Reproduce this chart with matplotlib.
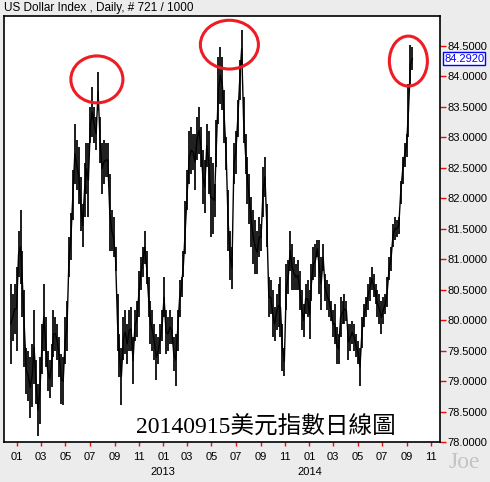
import matplotlib
matplotlib.use('Agg')
import matplotlib.pyplot as plt
import matplotlib.dates as mdates
import matplotlib.transforms as mtransforms
from matplotlib.patches import Ellipse
import pandas as pd

# ---- data (high / low, ~every 2 px) ----
highs = [
    80.60, 80.43, 80.60, 80.87, 81.47, 81.80, 81.14, 80.49, 79.55, 79.50, 79.39, 79.61, 80.16, 79.34, 78.95, 79.39,
    79.94, 80.60, 80.05, 79.50, 79.34, 79.61, 80.16, 80.05, 79.94, 79.72, 79.45, 79.39, 80.05, 80.32, 81.36, 81.75,
    82.46, 83.22, 82.95, 82.84, 82.35, 81.91, 82.57, 82.90, 82.90, 83.50, 83.83, 83.50, 83.33, 84.07, 83.33, 82.90,
    82.95, 82.90, 82.90,
    82.40, 81.80, 81.69, 81.20, 80.43, 79.77, 79.55, 80.05, 80.16, 79.94, 80.16, 80.21, 79.72, 80.16, 80.32, 80.81,
    81.03, 81.20, 81.47, 81.14, 80.70, 80.32, 80.16, 79.94, 79.77, 79.72, 79.94, 80.16, 80.70, 80.16, 80.05, 80.16,
    80.05, 79.72, 79.77, 80.16, 80.65, 80.70, 81.14, 81.96, 82.46, 83.11, 83.17, 83.06, 83.06, 83.33, 83.50, 83.17,
    82.79, 82.62, 83.22, 83.11, 82.68,
    82.57, 82.24, 83.28, 84.32, 84.48, 84.32, 83.77, 83.00, 82.13, 81.47, 81.20, 82.90, 83.11, 83.61, 84.26, 84.76,
    83.66, 83.06, 82.68, 82.40, 82.02, 81.80, 81.64, 81.47, 81.69, 81.58, 82.51, 82.68, 81.91, 80.70, 80.65, 80.49,
    80.21, 80.43, 80.60, 80.70, 79.94, 79.55, 80.92, 80.98, 81.47, 81.25, 81.03, 80.92, 80.98, 80.81, 80.49, 80.27,
    80.60, 80.65, 80.49, 80.92, 81.20, 81.25, 81.31,
    81.31, 81.03, 81.25, 80.76, 80.65, 80.60, 80.32, 80.16, 80.27, 79.88, 79.77, 80.38, 80.32, 80.43, 80.32, 79.94,
    79.94, 79.99, 79.94, 79.77, 79.66, 79.55, 80.05, 80.27, 80.38, 80.60, 80.70, 80.87, 80.76, 80.60, 80.49, 80.43,
    80.32, 80.38, 80.43, 80.70, 81.03, 81.20, 81.58, 81.69, 81.64, 81.69, 82.29, 82.68, 82.90, 83.06, 83.88, 84.51,
    84.48,
]
lows = [
    79.28, 79.66, 79.77, 79.50, 80.70, 80.60, 80.05, 79.23, 78.79, 78.68, 78.40, 78.57, 78.95, 78.62, 78.10, 78.30,
    79.12, 79.50, 79.23, 78.84, 78.73, 78.90, 79.39, 79.50, 79.34, 79.06, 78.62, 78.60, 79.28, 79.50, 80.70, 80.98,
    81.64, 82.24, 82.13, 81.91, 81.47, 81.20, 81.69, 82.07, 81.69, 82.90, 83.00, 82.90, 82.79, 83.44, 82.57, 82.07,
    82.24, 82.35, 82.35,
    81.14, 81.14, 81.03, 80.81, 79.50, 79.06, 78.60, 79.34, 79.45, 79.28, 79.50, 79.50, 78.95, 79.66, 79.72, 80.05,
    80.49, 80.70, 80.92, 80.60, 80.05, 79.61, 79.50, 79.34, 79.01, 79.28, 79.45, 79.66, 80.05, 79.45, 79.50, 79.61,
    79.61, 79.17, 78.92, 79.50, 80.05, 80.38, 80.70, 81.09, 81.80, 82.24, 82.40, 82.46, 82.13, 82.62, 82.73, 82.51,
    81.91, 81.75, 82.51, 82.07, 81.36,
    81.42, 81.69, 82.51, 83.22, 83.55, 83.44, 82.90, 82.46, 81.14, 80.65, 80.51, 82.24, 82.40, 83.00, 83.61, 84.15,
    82.90, 82.40, 81.91, 81.58, 81.20, 80.92, 80.76, 80.76, 81.03, 81.14, 81.69, 82.02, 81.20, 80.05, 80.10, 79.72,
    79.66, 79.83, 79.88, 79.72, 79.17, 79.09, 80.16, 80.43, 80.81, 80.49, 80.49, 80.49, 80.49, 80.16, 79.83, 79.72,
    80.10, 80.05, 79.69, 80.32, 80.65, 80.70, 81.03,
    80.43, 80.16, 80.81, 80.32, 80.16, 80.05, 79.99, 79.72, 79.61, 79.28, 79.28, 79.72, 79.94, 79.94, 79.99, 79.34,
    79.50, 79.61, 79.50, 79.39, 79.28, 78.92, 79.55, 79.88, 80.05, 80.16, 80.32, 80.49, 80.38, 80.27, 80.05, 79.94,
    79.77, 79.94, 80.10, 80.21, 80.65, 80.81, 81.20, 81.31, 81.36, 81.42, 81.91, 82.24, 82.51, 82.68, 83.00, 83.88,
    84.10,
]
first_date = '2011-12-17'
last_date = '2014-09-15'
last_price = 84.2920
y_ticks = [78.0, 78.5, 79.0, 79.5, 80.0, 80.5, 81.0, 81.5, 82.0, 82.5, 83.0, 83.5, 84.0, 84.5]
year_labels = ['2013', '2014']
header = 'US Dollar Index , Daily, # 721 / 1000'
caption = '20140915美元指數日線圖'
# circled highs: (centre date, centre price, width in days, height in price)
circles = [('2012-07-19', 83.95, 130, 0.77), ('2013-06-15', 84.52, 145, 0.80), ('2014-09-05', 84.25, 95, 0.82)]

n = min(len(highs), len(lows))
highs, lows = highs[:n], lows[:n]
dates = pd.date_range(first_date, last_date, periods=n)
mids = [(h + l) / 2 for h, l in zip(highs, lows)]

BG = '#ECECEC'
plt.rcParams['font.family'] = ['Liberation Sans', 'DejaVu Sans']

fig = plt.figure(figsize=(4.9, 4.82), dpi=100, facecolor=BG)
ax = fig.add_axes([4 / 490, 1 - 442 / 482, 436 / 490, 426 / 482])
ax.set_facecolor('white')

ax.vlines(dates, lows, highs, color='black', linewidth=1.25)
ax.plot(dates, mids, color='black', linewidth=1.0)

ax.set_xlim(pd.Timestamp('2011-11-30'), pd.Timestamp('2014-11-23'))
ax.set_ylim(78.0, 84.99)

ax.yaxis.tick_right()
ax.set_yticks(y_ticks)
ax.set_yticklabels([f'{v:.4f}' for v in y_ticks])
ax.xaxis.set_major_locator(mdates.MonthLocator(bymonth=[1, 3, 5, 7, 9, 11]))
ax.xaxis.set_major_formatter(mdates.DateFormatter('%m'))
ax.tick_params(axis='y', colors='red', labelcolor='black', length=4, width=1, direction='out',
               pad=1.5, labelsize=8)
ax.tick_params(axis='x', colors='red', labelcolor='black', length=3, width=1, direction='out',
               pad=4, labelsize=8)
for s in ax.spines.values():
    s.set_color('black')
    s.set_linewidth(1.2)

# year labels under the January ticks
trans = mtransforms.blended_transform_factory(ax.transData, fig.transFigure)
for yl in year_labels:
    ax.text(pd.Timestamp(f'{yl}-01-01'), 1 - 472 / 482, yl, transform=trans,
            ha='center', va='center', fontsize=8, color='black')

# header
fig.text(4 / 490, 1 - 8 / 482, header, ha='left', va='center', fontsize=8.5, color='black')

# red circles
for d, p, w, h in circles:
    ax.add_patch(Ellipse((mdates.date2num(pd.Timestamp(d)), p), w, h, fill=False,
                         edgecolor='#EE1C25', linewidth=2.2, zorder=5))

# current price box
ytr = mtransforms.blended_transform_factory(ax.transAxes, ax.transData)
ax.text(1.0 + 4 / 436, last_price, f'{last_price:.4f}', transform=ytr, ha='left', va='center',
        fontsize=8, color='#0000FF',
        bbox=dict(boxstyle='square,pad=0.12', facecolor='white', edgecolor='#0000FF', linewidth=1))

# caption
ax.text(0.303, 0.035, caption, transform=ax.transAxes, ha='left', va='center', fontsize=17,
        family=['Liberation Serif', 'Noto Sans CJK TC'], color='black')

# watermark
fig.text(448 / 490, 1 - 463 / 482, 'Joe', ha='left', va='center', fontsize=17,
         family='Liberation Serif', color='#C4C4C4')

fig.savefig('out.png', dpi=100, facecolor=BG)
